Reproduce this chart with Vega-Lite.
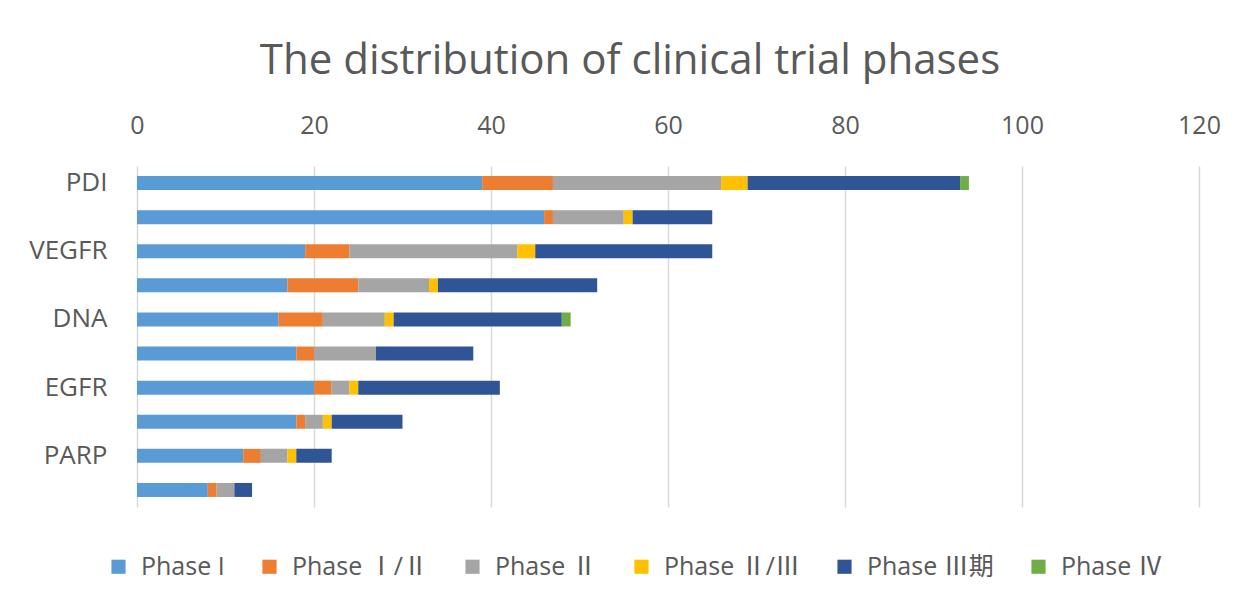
{
  "$schema": "https://vega.github.io/schema/vega-lite/v6.json",
  "autosize": "none",
  "width": 1062,
  "height": 341,
  "padding": {"left": 137, "top": 166, "right": 45, "bottom": 96},
  "background": "white",
  "title": {
    "text": "The distribution of clinical trial phases",
    "font": "Open Sans",
    "fontSize": 42,
    "fontWeight": "normal",
    "color": "#595959",
    "anchor": "middle",
    "dx": -38,
    "offset": 30
  },
  "data": {
    "values": [
      {"target": "PDI", "phase": "Phase I", "count": 39},
      {"target": "PDI", "phase": "Phase Ⅰ/Ⅱ", "count": 8},
      {"target": "PDI", "phase": "Phase Ⅱ", "count": 19},
      {"target": "PDI", "phase": "Phase Ⅱ/Ⅲ", "count": 3},
      {"target": "PDI", "phase": "Phase Ⅲ期", "count": 24},
      {"target": "PDI", "phase": "Phase Ⅳ", "count": 1},
      {"target": "Target 2", "phase": "Phase I", "count": 46},
      {"target": "Target 2", "phase": "Phase Ⅰ/Ⅱ", "count": 1},
      {"target": "Target 2", "phase": "Phase Ⅱ", "count": 8},
      {"target": "Target 2", "phase": "Phase Ⅱ/Ⅲ", "count": 1},
      {"target": "Target 2", "phase": "Phase Ⅲ期", "count": 9},
      {"target": "VEGFR", "phase": "Phase I", "count": 19},
      {"target": "VEGFR", "phase": "Phase Ⅰ/Ⅱ", "count": 5},
      {"target": "VEGFR", "phase": "Phase Ⅱ", "count": 19},
      {"target": "VEGFR", "phase": "Phase Ⅱ/Ⅲ", "count": 2},
      {"target": "VEGFR", "phase": "Phase Ⅲ期", "count": 20},
      {"target": "Target 4", "phase": "Phase I", "count": 17},
      {"target": "Target 4", "phase": "Phase Ⅰ/Ⅱ", "count": 8},
      {"target": "Target 4", "phase": "Phase Ⅱ", "count": 8},
      {"target": "Target 4", "phase": "Phase Ⅱ/Ⅲ", "count": 1},
      {"target": "Target 4", "phase": "Phase Ⅲ期", "count": 18},
      {"target": "DNA", "phase": "Phase I", "count": 16},
      {"target": "DNA", "phase": "Phase Ⅰ/Ⅱ", "count": 5},
      {"target": "DNA", "phase": "Phase Ⅱ", "count": 7},
      {"target": "DNA", "phase": "Phase Ⅱ/Ⅲ", "count": 1},
      {"target": "DNA", "phase": "Phase Ⅲ期", "count": 19},
      {"target": "DNA", "phase": "Phase Ⅳ", "count": 1},
      {"target": "Target 6", "phase": "Phase I", "count": 18},
      {"target": "Target 6", "phase": "Phase Ⅰ/Ⅱ", "count": 2},
      {"target": "Target 6", "phase": "Phase Ⅱ", "count": 7},
      {"target": "Target 6", "phase": "Phase Ⅲ期", "count": 11},
      {"target": "EGFR", "phase": "Phase I", "count": 20},
      {"target": "EGFR", "phase": "Phase Ⅰ/Ⅱ", "count": 2},
      {"target": "EGFR", "phase": "Phase Ⅱ", "count": 2},
      {"target": "EGFR", "phase": "Phase Ⅱ/Ⅲ", "count": 1},
      {"target": "EGFR", "phase": "Phase Ⅲ期", "count": 16},
      {"target": "Target 8", "phase": "Phase I", "count": 18},
      {"target": "Target 8", "phase": "Phase Ⅰ/Ⅱ", "count": 1},
      {"target": "Target 8", "phase": "Phase Ⅱ", "count": 2},
      {"target": "Target 8", "phase": "Phase Ⅱ/Ⅲ", "count": 1},
      {"target": "Target 8", "phase": "Phase Ⅲ期", "count": 8},
      {"target": "PARP", "phase": "Phase I", "count": 12},
      {"target": "PARP", "phase": "Phase Ⅰ/Ⅱ", "count": 2},
      {"target": "PARP", "phase": "Phase Ⅱ", "count": 3},
      {"target": "PARP", "phase": "Phase Ⅱ/Ⅲ", "count": 1},
      {"target": "PARP", "phase": "Phase Ⅲ期", "count": 4},
      {"target": "Target 10", "phase": "Phase I", "count": 8},
      {"target": "Target 10", "phase": "Phase Ⅰ/Ⅱ", "count": 1},
      {"target": "Target 10", "phase": "Phase Ⅱ", "count": 2},
      {"target": "Target 10", "phase": "Phase Ⅲ期", "count": 2}
    ]
  },
  "mark": {"type": "bar"},
  "encoding": {
    "y": {
      "field": "target",
      "type": "nominal",
      "sort": null,
      "scale": {"paddingInner": 0.59, "paddingOuter": 0.295},
      "axis": {
        "title": null,
        "ticks": false,
        "domain": false,
        "labelFont": "Open Sans",
        "labelFontSize": 26,
        "labelColor": "#595959",
        "labelPadding": 30,
        "labelExpr": "indexof(['PDI','VEGFR','DNA','EGFR','PARP'], datum.value) >= 0 ? datum.label : ''"
      }
    },
    "x": {
      "field": "count",
      "type": "quantitative",
      "stack": "zero",
      "scale": {"domain": [0, 120], "nice": false},
      "axis": {
        "orient": "top",
        "title": null,
        "values": [0, 20, 40, 60, 80, 100, 120],
        "ticks": false,
        "domain": false,
        "grid": true,
        "gridColor": "#D9D9D9",
        "gridWidth": 1.5,
        "labelFlush": false,
        "labelFont": "Open Sans",
        "labelFontSize": 25,
        "labelColor": "#595959",
        "labelPadding": 28
      }
    },
    "color": {
      "field": "phase",
      "type": "nominal",
      "sort": ["Phase I", "Phase Ⅰ/Ⅱ", "Phase Ⅱ", "Phase Ⅱ/Ⅲ", "Phase Ⅲ期", "Phase Ⅳ"],
      "scale": {
        "domain": ["Phase I", "Phase Ⅰ/Ⅱ", "Phase Ⅱ", "Phase Ⅱ/Ⅲ", "Phase Ⅲ期", "Phase Ⅳ"],
        "range": ["#5B9BD5", "#ED7D31", "#A5A5A5", "#FFC000", "#2F5597", "#70AD47"]
      },
      "legend": {
        "title": null,
        "orient": "none",
        "legendX": -31,
        "legendY": 388,
        "direction": "horizontal",
        "symbolType": "square",
        "symbolSize": 200,
        "symbolStrokeWidth": 0,
        "labelFont": "Open Sans, Noto Sans CJK SC",
        "labelFontSize": 25,
        "labelColor": "#595959",
        "labelOffset": 10,
        "columnPadding": 32,
        "labelLimit": 300
      }
    }
  },
  "config": {"view": {"stroke": null}}
}
